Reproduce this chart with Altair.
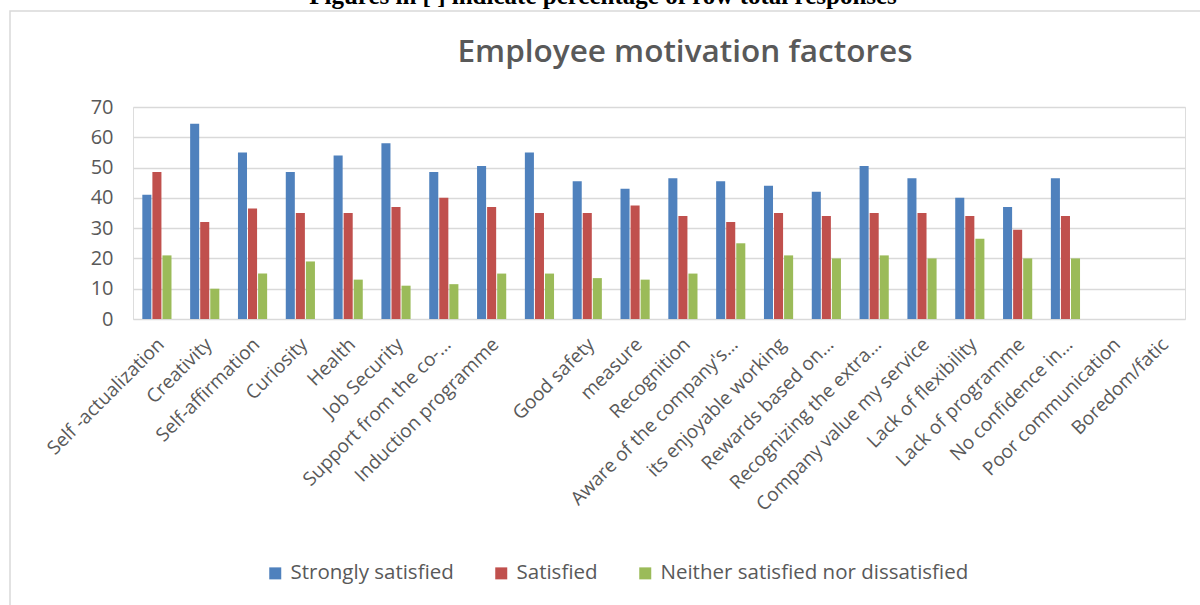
import altair as alt
import pandas as pd

categories = [
    "Self -actualization", "Creativity", "Self-affirmation", "Curiosity", "Health",
    "Job Security", "Support from the co-…", "Induction programme", " ",
    "Good safety", "measure", "Recognition", "Aware of the company's…",
    "its enjoyable working", "Rewards based on…", "Recognizing the extra…",
    "Company value my service", "Lack of flexibility", "Lack of programme",
    "No confidence in…", "Poor communication", "Boredom/fatic",
]
series = ["Strongly satisfied", "Satisfied", "Neither satisfied nor dissatisfied"]
strongly_satisfied = [41, 64.5, 55, 48.5, 54, 58, 48.5, 50.5, 55, 45.5, 43, 46.5,
                      45.5, 44, 42, 50.5, 46.5, 40, 37, 46.5, None, None]
satisfied = [48.5, 32, 36.5, 35, 35, 37, 40, 37, 35, 35, 37.5, 34,
             32, 35, 34, 35, 35, 34, 29.5, 34, None, None]
neither = [21, 10, 15, 19, 13, 11, 11.5, 15, 15, 13.5, 13, 15,
           25, 21, 20, 21, 20, 26.5, 20, 20, None, None]
colors = ["#4F81BD", "#C0504D", "#9BBB59"]
y_ticks = [0, 10, 20, 30, 40, 50, 60, 70]
title_text = "Employee motivation factores"
top_note = "Figures in [ ] indicate percentage of row total responses"

rows = []
for s, vals in zip(series, [strongly_satisfied, satisfied, neither]):
    for c, v in zip(categories, vals):
        if v is not None:
            rows.append({"factor": c, "response": s, "value": v})
df = pd.DataFrame(rows)

GRAY = "#595959"
FONT = "Open Sans"

bars = alt.Chart(df).mark_bar().encode(
    x=alt.X("factor:N", sort=categories,
            scale=alt.Scale(domain=categories, paddingInner=0.39, paddingOuter=0.195),
            axis=alt.Axis(title=None, labelAngle=-45, labelAlign="right",
                          labelBaseline="middle", labelFontSize=19, labelColor=GRAY,
                          labelFont=FONT, labelPadding=22, labelOffset=4,
                          ticks=False, domain=False, labelOverlap=False,
                          labelLimit=400)),
    xOffset=alt.XOffset("response:N", sort=series,
                        scale=alt.Scale(domain=series, paddingInner=0.1)),
    y=alt.Y("value:Q", scale=alt.Scale(domain=[0, 70], nice=False),
            axis=alt.Axis(title=None, values=y_ticks, labelFontSize=20,
                          labelColor=GRAY, labelFont=FONT, labelPadding=20,
                          ticks=False, tickSize=0, domain=False,
                          gridColor="#d9d9d9", gridWidth=1.3)),
    color=alt.Color("response:N", sort=series,
                    scale=alt.Scale(domain=series, range=colors),
                    legend=alt.Legend(title=None, orient="none", direction="horizontal",
                                      legendX=132, legendY=456, symbolType="square",
                                      symbolSize=144, symbolStrokeWidth=0,
                                      labelFontSize=20.5, labelColor=GRAY, labelFont=FONT,
                                      labelOffset=5, columnPadding=37, labelLimit=500)),
)

note = alt.Chart(pd.DataFrame({"t": [top_note]})).mark_text(
    font="Liberation Serif", fontWeight="bold", fontSize=25, color="black",
    align="center", baseline="alphabetic"
).encode(text="t:N", x=alt.value(603 - 133), y=alt.value(4 - 107))

title = alt.Chart(pd.DataFrame({"t": [title_text]})).mark_text(
    font=FONT, fontWeight=600, fontSize=31.5, color=GRAY,
    align="center", baseline="alphabetic"
).encode(text="t:N", x=alt.value(685 - 133), y=alt.value(62 - 107))

frame = alt.Chart(pd.DataFrame({"k": [1]})).mark_rect(
    fill=None, stroke="#d9d9d9", strokeWidth=1.5
).encode(x=alt.value(10 - 133), x2=alt.value(1400), y=alt.value(11 - 107), y2=alt.value(800))

chart = alt.layer(frame, bars, title, note).properties(
    width=1052, height=212,
    autosize=alt.AutoSizeParams(type="none"),
    padding={"left": 133, "top": 107, "right": 15, "bottom": 286},
).configure_view(stroke=None).configure(background="white")

chart.save("out.html", embed_options={"renderer": "svg", "actions": False})
